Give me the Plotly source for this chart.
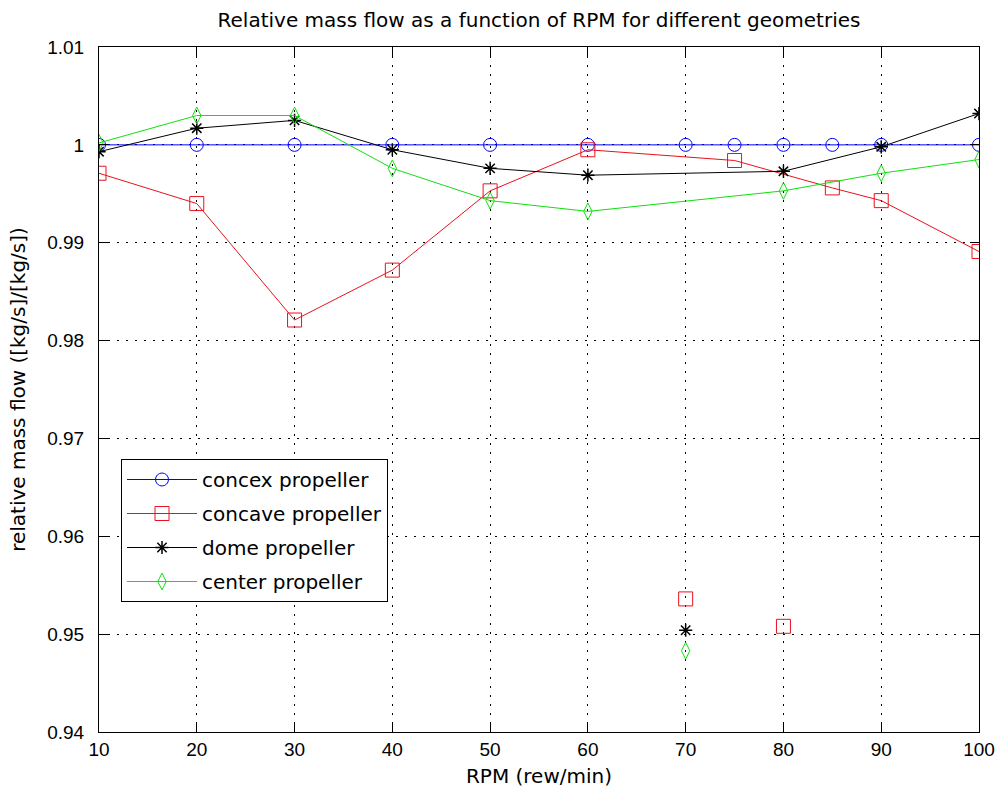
import plotly.graph_objects as go

# ---- data ----
rpm_convex = [10, 20, 30, 40, 50, 60, 70, 75, 80, 85, 90, 100]
flow_convex = [1.0, 1.0, 1.0, 1.0, 1.0, 1.0, 1.0, 1.0, 1.0, 1.0, 1.0, 1.0]

rpm_concave = [10, 20, 30, 40, 50, 60, 75, 85, 90, 100]
flow_concave = [0.9971, 0.9940, 0.9821, 0.9872, 0.9953, 0.9995, 0.9984, 0.9956, 0.9943, 0.9891]
rpm_concave_extra = [70, 80]
flow_concave_extra = [0.9536, 0.9508]

rpm_dome = [10, 20, 30, 40, 50, 60, 80, 90, 100]
flow_dome = [0.9993, 1.0017, 1.0025, 0.9995, 0.9976, 0.9969, 0.9973, 0.9998, 1.0032]
rpm_dome_extra = [70]
flow_dome_extra = [0.9504]

rpm_center = [10, 20, 30, 40, 50, 60, 80, 90, 100]
flow_center = [1.0002, 1.0030, 1.0030, 0.9976, 0.9943, 0.9932, 0.9953, 0.9971, 0.9985]
rpm_center_extra = [70]
flow_center_extra = [0.9483]

x_ticks = [10, 20, 30, 40, 50, 60, 70, 80, 90, 100]
y_ticks = [0.94, 0.95, 0.96, 0.97, 0.98, 0.99, 1.0, 1.01]
y_ticktext = ["0.94", "0.95", "0.96", "0.97", "0.98", "0.99", "1", "1.01"]

names = ["concex propeller", "concave propeller", "dome propeller", "center propeller"]

BLUE = "#0000ff"
RED = "#e8121c"
BLACK = "#000000"
GREEN = "#10e010"

fig = go.Figure()

def add_series(x, y, name, color, symbol, size, group, lw=1.0, mlw=1.0):
    fig.add_trace(go.Scatter(
        x=x, y=y, mode="lines+markers", name=name, legendgroup=group,
        line=dict(color=color, width=lw),
        marker=dict(symbol=symbol, size=size, color=color, line=dict(color=color, width=mlw)),
    ))

def add_points(x, y, color, symbol, size, group, mlw=1.0):
    fig.add_trace(go.Scatter(
        x=x, y=y, mode="markers", showlegend=False, legendgroup=group,
        marker=dict(symbol=symbol, size=size, color=color, line=dict(color=color, width=mlw)),
    ))

add_series(rpm_convex, flow_convex, names[0], BLUE, "circle-open", 13, "g1")
add_series(rpm_concave, flow_concave, names[1], RED, "square-open", 14, "g2")
add_points(rpm_concave_extra, flow_concave_extra, RED, "square-open", 14, "g2")
add_series(rpm_dome, flow_dome, names[2], BLACK, "asterisk-open", 11, "g3", mlw=1.5)
add_points(rpm_dome_extra, flow_dome_extra, BLACK, "asterisk-open", 11, "g3", mlw=1.5)
add_series(rpm_center, flow_center, names[3], GREEN, "diamond-tall-open", 12, "g4")
add_points(rpm_center_extra, flow_center_extra, GREEN, "diamond-tall-open", 12, "g4")

axis_common = dict(
    showline=True, linecolor="black", linewidth=1, mirror="ticks",
    ticks="inside", ticklen=9, tickcolor="black", tickwidth=1,
    showgrid=True, gridcolor="black", gridwidth=1, griddash="2px,7px",
    zeroline=False, automargin=False,
    tickfont=dict(family="Liberation Sans, Arial", size=19, color="black"),
)

fig.update_xaxes(
    range=[10, 100], tickvals=x_ticks, ticktext=[str(v) for v in x_ticks],
    title=dict(text="RPM (rew/min)", font=dict(family="DejaVu Sans", size=20, color="black"), standoff=10),
    **axis_common,
)
fig.update_yaxes(
    range=[0.94, 1.01], tickvals=y_ticks, ticktext=y_ticktext,
    ticklabelstandoff=10,
    title=dict(text="relative mass flow ([kg/s]/[kg/s])", font=dict(family="DejaVu Sans", size=20, color="black"), standoff=16),
    **axis_common,
)

fig.update_layout(
    width=1000, height=798,
    margin=dict(l=99, r=21, t=47, b=66),
    paper_bgcolor="white", plot_bgcolor="white",
    title=dict(
        text="Relative mass flow as a function of RPM for different geometries",
        font=dict(family="DejaVu Sans", size=20, color="black"),
        x=(99 + 979) / 2 / 1000, xanchor="center", xref="container",
        y=1 - 20 / 798, yanchor="middle", yref="container",
    ),
    legend=dict(
        x=(121 - 99) / 880, y=(732 - 459) / 685, xanchor="left", yanchor="top",
        bgcolor="white", bordercolor="black", borderwidth=1,
        font=dict(family="DejaVu Sans", size=20, color="black"),
        tracegroupgap=5, itemwidth=70,
    ),
    showlegend=True,
)

fig.write_html("out.html")
